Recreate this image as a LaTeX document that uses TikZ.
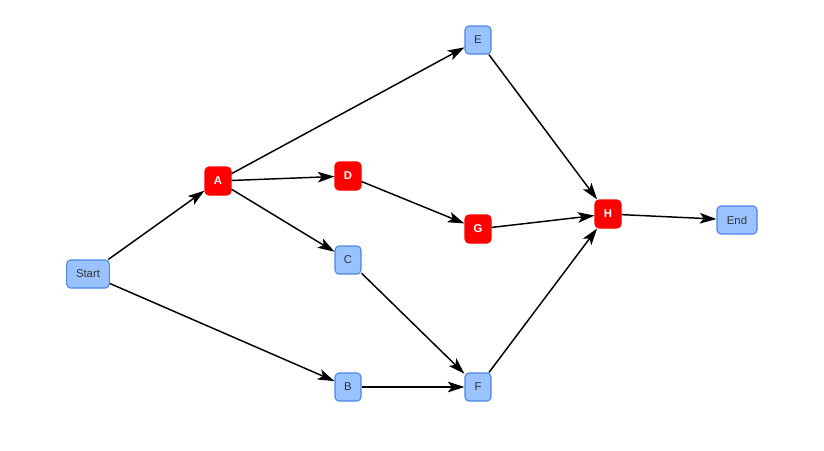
\documentclass[tikz,border=0pt]{standalone}
\usepackage{fontspec}
\setmainfont{Liberation Sans}
\usetikzlibrary{arrows.meta}
\definecolor{bfill}{HTML}{99C2FF}
\definecolor{bdraw}{HTML}{4A86E8}
\definecolor{txt}{HTML}{333333}
\begin{document}
\begin{tikzpicture}[x=0.75pt,y=-0.75pt,
  bluebox/.style={draw=bdraw,fill=bfill,line width=0.8pt,rounded corners=3pt,minimum height=21pt,minimum width=19.5pt,inner sep=2pt,font=\fontsize{8.5}{10}\selectfont,text=txt},
  redbox/.style={draw=red,fill=red,line width=0.8pt,rounded corners=3pt,minimum height=21pt,minimum width=19.5pt,inner sep=2pt,font=\fontsize{8.5}{10}\selectfont\bfseries,text=white},
  conn/.style={line width=1.1pt,-{Stealth[length=12.5pt,width=8pt,inset=3pt]}}]
\useasboundingbox (0,0) rectangle (824,450);
\node[bluebox,minimum width=32pt] (start) at (88,274) {Start};
\node[redbox] (a) at (218,181) {A};
\node[redbox] (d) at (348,176) {D};
\node[bluebox] (c) at (348,260) {C};
\node[bluebox] (b) at (348,387) {B};
\node[bluebox] (e) at (478,40) {E};
\node[redbox] (g) at (478,229) {G};
\node[bluebox] (f) at (478,387) {F};
\node[redbox] (h) at (608,214) {H};
\node[bluebox,minimum width=30pt] (end) at (737,220) {End};
\draw[conn] (start) -- (a);
\draw[conn] (start) -- (b);
\draw[conn] (a) -- (e);
\draw[conn] (a) -- (d);
\draw[conn] (a) -- (c);
\draw[conn] (d) -- (g);
\draw[conn] (c) -- (f);
\draw[conn] (b) -- (f);
\draw[conn] (e) -- (h);
\draw[conn] (g) -- (h);
\draw[conn] (f) -- (h);
\draw[conn] (h) -- (end);
\end{tikzpicture}
\end{document}
